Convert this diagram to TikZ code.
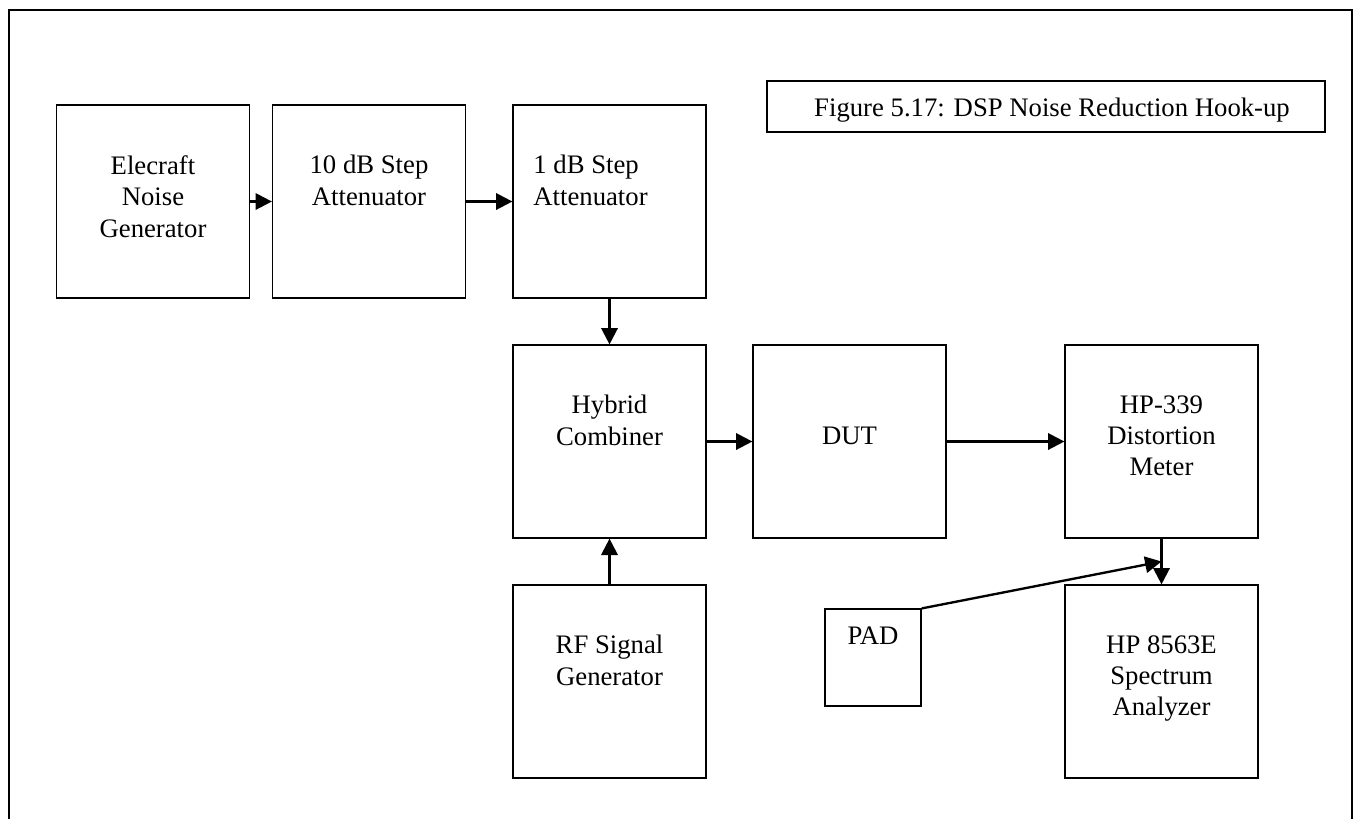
\documentclass[tikz,border=0pt]{standalone}
\usepackage{fontspec}
\setmainfont{Liberation Serif}
\usetikzlibrary{positioning,calc,arrows.meta}

\tikzset{
  blk/.style={draw, line width=0.65pt, minimum width=2.89cm, minimum height=2.89cm, inner sep=0pt},
  txt/.style={align=center, inner sep=0pt, outer sep=0pt, font=\fontsize{11.4}{13.4}\selectfont},
  arr/.style={line width=1pt, -{Triangle[length=7pt,width=7pt]}}
}

\begin{document}
\begin{tikzpicture}[x=0.015cm,y=-0.015cm]
\useasboundingbox (0,0) rectangle (1354,818);
\draw[line width=0.65pt] (9,830) -- (9,10) -- (1352,10) -- (1352,830);

% top row
\node[blk] (noise) at (153,201.5) {};
\node[blk] (att10) at (369,201.5) {};
\node[blk] (att1) at (609.5,201.5) {};
% middle row
\node[blk] (hybrid) at (609.5,441.5) {};
\node[blk] (dut) at (849.5,441.5) {};
\node[blk] (hp339) at (1161.5,441.5) {};
% bottom row
\node[blk] (rfgen) at (609.5,681.5) {};
\node[blk, minimum width=1.44cm, minimum height=1.45cm] (pad) at (873,657.5) {};
\node[blk] (hp8563) at (1161.5,681.5) {};
\node[draw, line width=0.65pt, minimum width=8.37cm, minimum height=0.765cm] (caption) at (1046,106.5) {};

% texts
\node[txt, below=0.765cm of noise.north] (noise-t) {Elecraft\\Noise\\Generator};
\node[txt, below=0.765cm of att10.north] (att10-t) {10 dB Step\\Attenuator};
\node[txt, align=left, below right=0.765cm and 0.315cm of att1.north west] (att1-t) {1 dB Step\\Attenuator};
\node[txt, below=0.765cm of hybrid.north] (hybrid-t) {Hybrid\\Combiner};
\node[txt, below=1.235cm of dut.north] (dut-t) {DUT};
\node[txt, below=0.765cm of hp339.north] (hp339-t) {HP-339\\Distortion\\Meter};
\node[txt, below=0.765cm of rfgen.north] (rfgen-t) {RF Signal\\Generator};
\node[txt, below=0.28cm of pad.north] (pad-t) {PAD};
\node[txt, below=0.765cm of hp8563.north] (hp8563-t) {HP 8563E\\Spectrum\\Analyzer};
\node[txt, below right=0.27cm and 0.72cm of caption.north west] (caption-t) {Figure 5.17: DSP Noise Reduction Hook-up};

% connections
\draw[arr] (noise) -- (att10);
\draw[arr] (att10) -- (att1);
\draw[arr] (att1) -- (hybrid);
\draw[arr] (rfgen) -- (hybrid);
\draw[arr] (hybrid) -- (dut);
\draw[arr] (dut) -- (hp339);
\draw[arr] (hp339) -- (hp8563);
\draw[arr] (pad.north east) -- ($(hp339.south)!.5!(hp8563.north)$);
\end{tikzpicture}
\end{document}
